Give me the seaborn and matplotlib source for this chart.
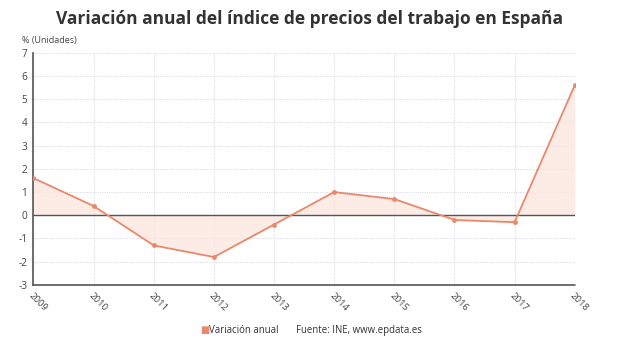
import matplotlib
matplotlib.use("Agg")
import matplotlib.pyplot as plt
import seaborn as sns
import pandas as pd
import numpy as np

years = [2009, 2010, 2011, 2012, 2013, 2014, 2015, 2016, 2017, 2018]
values = [1.6, 0.4, -1.3, -1.8, -0.4, 1.0, 0.7, -0.2, -0.3, 5.6]
yticks = [-3, -2, -1, 0, 1, 2, 3, 4, 5, 6, 7]

sns.set_style("white")
plt.rcParams['font.family'] = ['Open Sans', 'DejaVu Sans']

line_color = "#e8896c"
fill_color = "#fde6e0"

df = pd.DataFrame({"year": years, "value": values})

fig = plt.figure(figsize=(6.2, 3.5), dpi=100)
ax = fig.add_axes([0.054, 0.186, 0.873, 0.663])

ax.fill_between(df["year"], df["value"], 0, color=fill_color, alpha=0.8, linewidth=0, zorder=1)
sns.lineplot(data=df, x="year", y="value", ax=ax, color=line_color, linewidth=1.3,
             marker="o", markersize=3.5, markeredgewidth=0, zorder=3)
ax.axhline(0, color="#555555", linewidth=1.0, zorder=2)

ax.set_xlim(2009, 2018)
ax.set_ylim(-3, 7)
ax.set_xticks(years)
ax.set_xticklabels([str(y) for y in years], rotation=-45, ha="left", va="top",
                   rotation_mode="anchor", fontsize=6.8, color="#444444")
ax.set_yticks(yticks)
ax.set_yticklabels([str(t) for t in yticks], fontsize=7.2, color="#444444")
ax.set_xlabel("")
ax.set_ylabel("")

ax.grid(True, color="#dcdce6", linestyle=(0, (1, 1)), linewidth=0.8, zorder=0)
for s in ["top", "right"]:
    ax.spines[s].set_visible(False)
ax.spines["left"].set_color("#555555")
ax.spines["left"].set_linewidth(1.2)
ax.spines["bottom"].set_color("#555555")
ax.spines["bottom"].set_linestyle((0, (1, 1)))
ax.spines["bottom"].set_linewidth(1.2)
ax.tick_params(axis="both", length=2.5, width=0.8, color="#555555", pad=2)

fig.text(0.5, 0.945, "Variación anual del índice de precios del trabajo en España",
         ha="center", va="center", fontsize=12.5, fontweight="bold", color="#333333")
fig.text(0.035, 0.883, "% (Unidades)", ha="left", va="center", fontsize=6.5, color="#444444")

fig.text(0.322, 0.057, "■", ha="left", va="center", fontsize=7, color=line_color)
fig.text(0.337, 0.057, "Variación anual", ha="left", va="center", fontsize=6.9, color="#333333")
fig.text(0.477, 0.057, "Fuente: INE, www.epdata.es", ha="left", va="center", fontsize=6.9, color="#333333")

fig.savefig("out.png", dpi=100)
